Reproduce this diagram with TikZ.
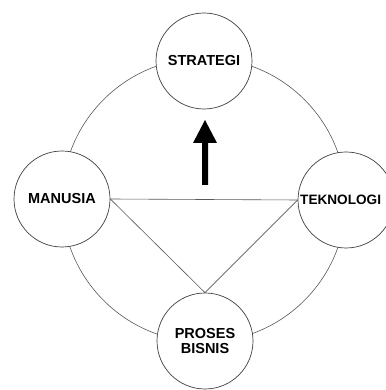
\documentclass[tikz,border=0pt]{standalone}
\usepackage{fontspec}
\setmainfont{Liberation Sans}
\begin{document}
\begin{tikzpicture}[x=1pt,y=1pt,
  lbl/.style={font=\fontsize{14.5}{16}\selectfont\bfseries, align=center},
  smallcirc/.style={circle, draw=black!75, line width=0.7pt, fill=white, minimum size=96pt, inner sep=0pt},
  thinline/.style={draw=black!65, line width=0.6pt}]
\useasboundingbox (0,0) rectangle (385,390);
\fill[white] (0,0) rectangle (385,390);
\draw[thinline] (204,190) circle (142);
\node[smallcirc, lbl] (S) at (204,329) {STRATEGI};
\node[smallcirc, lbl] (M) at (62,191) {MANUSIA};
\node[smallcirc] (T) at (346,190) {};
\node[lbl, font=\fontsize{13.6}{16}\selectfont\bfseries, anchor=west, inner sep=0pt] (TL) at (300,190) {TEKNOLOGI};
\node[smallcirc, lbl] (P) at (205,49) {PROSES\\[-1pt]BISNIS};
\draw[thinline] (M.east) -- (T.west);
\draw[thinline] (M.east) -- (P.north);
\draw[thinline] (T.west) -- (P.north);
\fill[black] (202,205) -- (208,205) -- (208,247) -- (217,247) -- (205,270) -- (193,247) -- (202,247) -- cycle;
\end{tikzpicture}
\end{document}
